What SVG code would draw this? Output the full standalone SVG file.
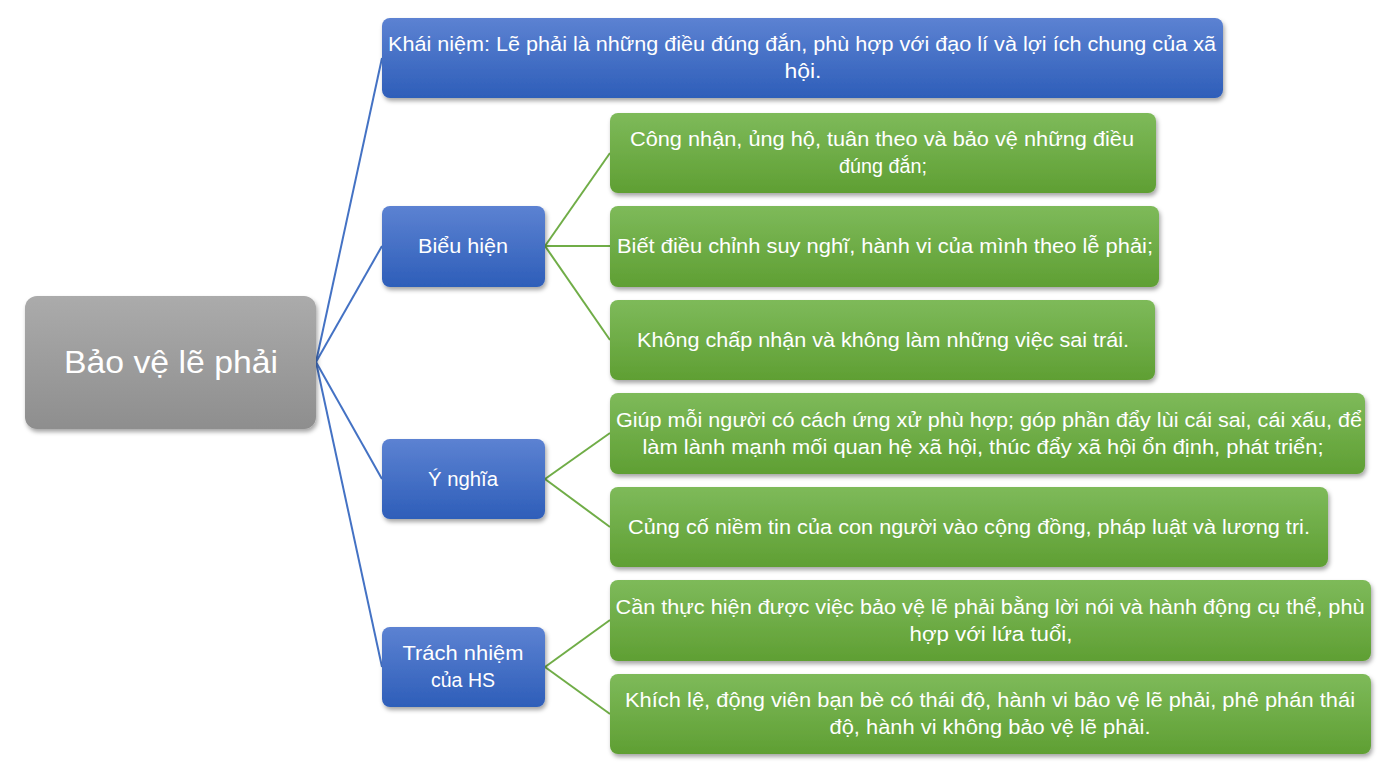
<svg xmlns="http://www.w3.org/2000/svg" width="1383" height="768" viewBox="0 0 1383 768">
<defs>
<linearGradient id="gBlue" x1="0" y1="0" x2="0" y2="1"><stop offset="0" stop-color="#5c82d2"/><stop offset="1" stop-color="#2e5eb9"/></linearGradient>
<linearGradient id="gGreen" x1="0" y1="0" x2="0" y2="1"><stop offset="0" stop-color="#7eba5a"/><stop offset="1" stop-color="#5f9f33"/></linearGradient>
<linearGradient id="gGray" x1="0" y1="0" x2="0" y2="1"><stop offset="0" stop-color="#ababab"/><stop offset="1" stop-color="#8e8e8e"/></linearGradient>
<filter id="sh" x="-5%" y="-10%" width="112%" height="130%"><feDropShadow dx="1.5" dy="3" stdDeviation="2" flood-color="#000" flood-opacity="0.35"/></filter>
<style>
.blue{fill:url(#gBlue);filter:url(#sh)}
.green{fill:url(#gGreen);filter:url(#sh)}
.gray{fill:url(#gGray);filter:url(#sh)}
text{font-family:"Liberation Sans",Arial,sans-serif;font-size:20.5px;fill:#ffffff;text-anchor:middle}
.root{font-size:32px}
.lb{stroke:#4472c4;stroke-width:2;fill:none}
.lg{stroke:#70ad47;stroke-width:2;fill:none}
</style>
</defs>
<rect width="1383" height="768" fill="#ffffff"/>
<g id="connectors">
<line class="lb" x1="316" y1="362" x2="382" y2="58"/>
<line class="lb" x1="316" y1="362" x2="382" y2="246"/>
<line class="lb" x1="316" y1="362" x2="382" y2="479"/>
<line class="lb" x1="316" y1="362" x2="382" y2="667"/>
<line class="lg" x1="545" y1="246" x2="610" y2="153"/>
<line class="lg" x1="545" y1="246" x2="610" y2="246"/>
<line class="lg" x1="545" y1="246" x2="610" y2="340"/>
<line class="lg" x1="545" y1="479" x2="610" y2="433"/>
<line class="lg" x1="545" y1="479" x2="610" y2="527"/>
<line class="lg" x1="545" y1="667" x2="610" y2="620"/>
<line class="lg" x1="545" y1="667" x2="610" y2="714"/>
</g>
<g id="root">
<rect class="gray" x="25" y="296" width="291" height="133" rx="12"/>
<text class="root" x="171" y="373" textLength="214" lengthAdjust="spacingAndGlyphs">Bảo vệ lẽ phải</text>
</g>
<g id="khai-niem">
<rect class="blue" x="382" y="18" width="841" height="80" rx="8"/>
<text x="802" y="51" textLength="828" lengthAdjust="spacingAndGlyphs">Khái niệm: Lẽ phải là những điều đúng đắn, phù hợp với đạo lí và lợi ích chung của xã</text>
<text x="803" y="78" textLength="37" lengthAdjust="spacingAndGlyphs">hội.</text>
</g>
<g id="bieu-hien">
<rect class="blue" x="382" y="206" width="163" height="81" rx="8"/>
<text x="463" y="253" textLength="90" lengthAdjust="spacingAndGlyphs">Biểu hiện</text>
</g>
<g id="y-nghia">
<rect class="blue" x="382" y="439" width="163" height="80" rx="8"/>
<text x="463" y="485.5" textLength="70" lengthAdjust="spacingAndGlyphs">Ý nghĩa</text>
</g>
<g id="trach-nhiem">
<rect class="blue" x="382" y="627" width="163" height="80" rx="8"/>
<text x="463" y="660" textLength="121" lengthAdjust="spacingAndGlyphs">Trách nhiệm</text>
<text x="463" y="687" textLength="64" lengthAdjust="spacingAndGlyphs">của HS</text>
</g>
<g id="bh1">
<rect class="green" x="610" y="113" width="546" height="80" rx="8"/>
<text x="882" y="146" textLength="504" lengthAdjust="spacingAndGlyphs">Công nhận, ủng hộ, tuân theo và bảo vệ những điều</text>
<text x="883" y="173" textLength="88" lengthAdjust="spacingAndGlyphs">đúng đắn;</text>
</g>
<g id="bh2">
<rect class="green" x="610" y="206" width="549" height="81" rx="8"/>
<text x="885" y="253" textLength="536" lengthAdjust="spacingAndGlyphs">Biết điều chỉnh suy nghĩ, hành vi của mình theo lễ phải;</text>
</g>
<g id="bh3">
<rect class="green" x="610" y="300" width="545" height="80" rx="8"/>
<text x="883" y="346.5" textLength="492" lengthAdjust="spacingAndGlyphs">Không chấp nhận và không làm những việc sai trái.</text>
</g>
<g id="yn1">
<rect class="green" x="610" y="393" width="755" height="81" rx="8"/>
<text x="989" y="426.5" textLength="746" lengthAdjust="spacingAndGlyphs">Giúp mỗi người có cách ứng xử phù hợp; góp phần đẩy lùi cái sai, cái xấu, để</text>
<text x="983" y="453.5" textLength="681" lengthAdjust="spacingAndGlyphs">làm lành mạnh mối quan hệ xã hội, thúc đẩy xã hội ổn định, phát triển;</text>
</g>
<g id="yn2">
<rect class="green" x="610" y="487" width="718" height="80" rx="8"/>
<text x="969" y="533.5" textLength="682" lengthAdjust="spacingAndGlyphs">Củng cố niềm tin của con người vào cộng đồng, pháp luật và lương tri.</text>
</g>
<g id="tn1">
<rect class="green" x="610" y="580" width="761" height="81" rx="8"/>
<text x="990" y="613.5" textLength="749" lengthAdjust="spacingAndGlyphs">Cần thực hiện được việc bảo vệ lẽ phải bằng lời nói và hành động cụ thể, phù</text>
<text x="991" y="640.5" textLength="163" lengthAdjust="spacingAndGlyphs">hợp với lứa tuổi,</text>
</g>
<g id="tn2">
<rect class="green" x="610" y="674" width="761" height="80" rx="8"/>
<text x="990" y="707" textLength="730" lengthAdjust="spacingAndGlyphs">Khích lệ, động viên bạn bè có thái độ, hành vi bảo vệ lẽ phải, phê phán thái</text>
<text x="990" y="734" textLength="321" lengthAdjust="spacingAndGlyphs">độ, hành vi không bảo vệ lẽ phải.</text>
</g>
</svg>
